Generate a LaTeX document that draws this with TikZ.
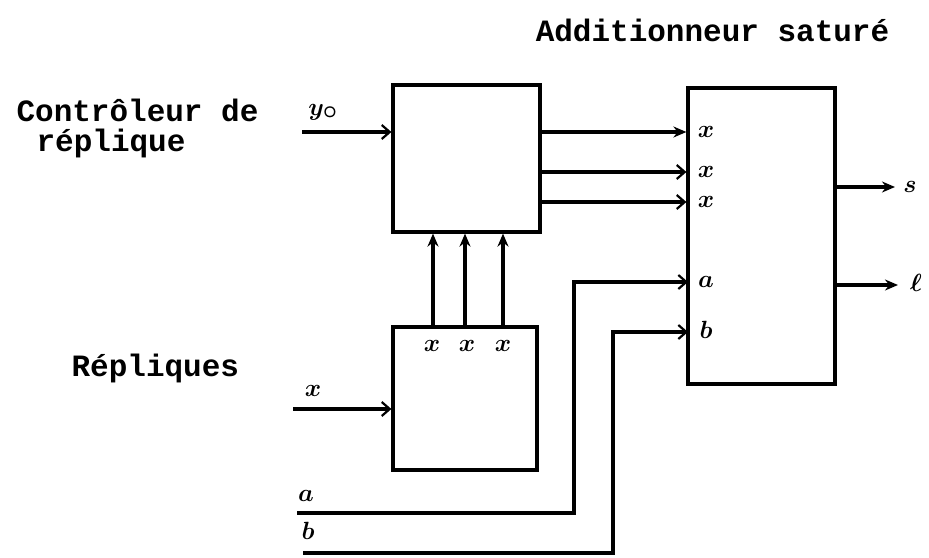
\documentclass[tikz,border=0pt]{standalone}
\usepackage{fontspec}
\usepackage{tikz}
\usetikzlibrary{arrows.meta, positioning}
\newfontfamily\typefont{Liberation Mono}

\begin{document}
\begin{tikzpicture}[x=1pt, y=-1pt,
        % Set global line width for the whole drawing
        line width=3.2pt,
        % Define reusable styles for different elements of the diagram
        block/.style={draw, rectangle, inner sep=0pt},
        fillarrow/.style={-{Stealth[length=13pt, width=11pt]}},
        openarrow/.style={-{Straight Barb[length=8pt, width=14pt, line width=2.2pt]}},
        typed/.style={font=\typefont\bfseries\fontsize{31}{33}\selectfont, inner sep=0pt},
        hand/.style={font=\boldmath\fontsize{36}{38}\selectfont, inner sep=0pt}
    ]

    \useasboundingbox (0,0) rectangle (929,557);

    % Blocks
    \node[block, minimum width=147pt, minimum height=147pt] (ctrl) at (466.5,158.5) {};
    \node[block, minimum width=144pt, minimum height=143pt] (rep) at (465,398.5) {};
    \node[block, minimum width=147pt, minimum height=296pt] (add) at (761.5,236) {};

    % Typed texts
    \node[typed] (addtxt) at (712.5,30) {Additionneur saturé};
    \node[typed, anchor=west] (ctrltxt) at (15,110) {Contrôleur de};
    \node[typed, anchor=west] (ctrltxtb) at (35,143) {réplique};
    \node[typed, anchor=west] (reptxt) at (70,368) {Répliques};

    % Inputs from the left
    \coordinate (yin) at (302,132);
    \coordinate (xin) at (293,409);
    \draw[openarrow] (yin) -- (ctrl.west |- yin);
    \draw[openarrow] (xin) -- (rep.west |- xin);
    \node[hand] (ylab) at (323,112) {$y_{\circ}$};
    \node[hand] (xlab) at (313,391) {$x$};

    % Replicas up to the controller
    \foreach \x/\n in {433/1, 465/2, 503/3} {
        \coordinate (v\n) at (\x,0);
        \draw[fillarrow] (rep.north -| v\n) -- (ctrl.south -| v\n);
    }
    \foreach \x/\n in {432/1, 467/2, 503/3} {
        \node[hand] (rx\n) at (\x,346) {$x$};
    }

    % Controller to adder
    \foreach \y/\n in {132/1, 172/2, 202/3} {
        \coordinate (h\n) at (0,\y);
        \node[hand] (ax\n) at (706,\y) {$x$};
    }
    \draw[fillarrow] (ctrl.east |- h1) -- (add.west |- h1);
    \draw[openarrow] (ctrl.east |- h2) -- (add.west |- h2);
    \draw[openarrow] (ctrl.east |- h3) -- (add.west |- h3);

    % Operands a and b
    \coordinate (ain) at (297,513);
    \coordinate (bin) at (303,553);
    \coordinate (acol) at (574,0);
    \coordinate (bcol) at (613,0);
    \coordinate (aport) at (688,282);
    \coordinate (bport) at (688,332);
    \draw[openarrow] (ain) -- (ain -| acol) |- (aport);
    \draw[openarrow] (bin) -- (bin -| bcol) |- (bport);
    \node[hand] (alab) at (306,496) {$a$};
    \node[hand] (blab) at (308,531) {$b$};
    \node[hand] (aport lab) at (706,282) {$a$};
    \node[hand] (bport lab) at (706,330) {$b$};

    % Outputs
    \coordinate (sout) at (895,187);
    \coordinate (lout) at (898,285);
    \draw[fillarrow] (add.east |- sout) -- (sout);
    \draw[fillarrow] (add.east |- lout) -- (lout);
    \node[hand] (slab) at (910,187) {$s$};
    \node[hand] (llab) at (916,283) {$\ell$};

\end{tikzpicture}
\end{document}
